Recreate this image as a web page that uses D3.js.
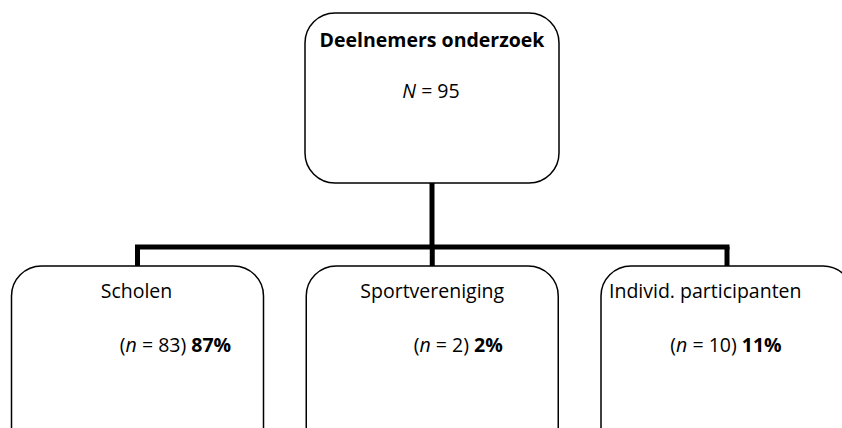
<!DOCTYPE html>
<html>
<head>
<meta charset="utf-8">
<script src="https://cdn.jsdelivr.net/npm/d3@7"></script>
<style>
html,body{margin:0;padding:0;background:#fff;}
svg{display:block;}
text{font-family:"Open Sans","Lato",sans-serif;fill:#000;}
</style>
</head>
<body>
<svg id="chart" width="842" height="428"></svg>
<script>
// ---- data ----
const rootTitle = "Deelnemers onderzoek";
const rootN = 95;
const categories = ["Scholen", "Sportvereniging", "Individ. participanten"];
const counts = [83, 2, 10];
const percents = [87, 2, 11];

// ---- layout ----
const W = 842, H = 428;
const svg = d3.select("#chart");
const FS = "19.5px";

const x = d3.scalePoint().domain(categories).range([137.5, 727]);
const rootX = 432;
const root = {x0: 305, x1: 559, y0: 13, y1: 183, r: 30};
const childY0 = 266, childY1 = 470, childW = 252, childR = 30;
const barY = 247;
const lineW = 5;

// connectors
const g = svg.append("g");
g.append("line").attr("x1", rootX).attr("x2", rootX).attr("y1", root.y1).attr("y2", barY)
  .attr("stroke", "#000").attr("stroke-width", lineW);
g.append("line").attr("x1", x(categories[0]) - lineW/2).attr("x2", x(categories[categories.length-1]) + lineW/2)
  .attr("y1", barY).attr("y2", barY).attr("stroke", "#000").attr("stroke-width", lineW);
g.selectAll("line.drop").data(categories).join("line").attr("class","drop")
  .attr("x1", d => x(d)).attr("x2", d => x(d)).attr("y1", barY).attr("y2", childY0)
  .attr("stroke", "#000").attr("stroke-width", lineW);

// root box
svg.append("rect").attr("x", root.x0).attr("y", root.y0)
  .attr("width", root.x1 - root.x0).attr("height", root.y1 - root.y0)
  .attr("rx", root.r).attr("ry", root.r)
  .attr("fill", "#fff").attr("stroke", "#000").attr("stroke-width", 1.5);
svg.append("text").attr("x", rootX).attr("y", 47).attr("text-anchor", "middle")
  .style("font-weight", "bold").style("font-size", FS).text(rootTitle);
const nt = svg.append("text").attr("x", rootX - 1).attr("y", 98).attr("text-anchor", "middle")
  .style("font-size", FS);
nt.append("tspan").style("font-style", "italic").text("N");
nt.append("tspan").text(" = " + rootN);

// child boxes
const textOffsets = [
  {title: -1, titleAnchor: "middle", sub: 38},
  {title: 0, titleAnchor: "middle", sub: 26},
  {title: -118, titleAnchor: "start", sub: -1}
];
const nodes = svg.selectAll("g.node").data(categories).join("g").attr("class", "node");
nodes.append("rect")
  .attr("x", d => x(d) - childW/2)
  .attr("y", childY0).attr("width", childW).attr("height", childY1 - childY0)
  .attr("rx", childR).attr("ry", childR)
  .attr("fill", "#fff").attr("stroke", "#000").attr("stroke-width", 1.5);
nodes.append("text")
  .attr("x", (d,i) => x(d) + textOffsets[i].title)
  .attr("y", 298).attr("text-anchor", (d,i) => textOffsets[i].titleAnchor)
  .style("font-size", FS).text(d => d);
const sub = nodes.append("text")
  .attr("x", (d,i) => x(d) + textOffsets[i].sub)
  .attr("y", 352).attr("text-anchor", "middle").style("font-size", FS);
sub.append("tspan").text("(");
sub.append("tspan").style("font-style", "italic").text("n");
sub.append("tspan").text((d,i) => " = " + counts[i] + ") ");
sub.append("tspan").style("font-weight", "bold").text((d,i) => percents[i] + "%");
</script>
</body>
</html>
